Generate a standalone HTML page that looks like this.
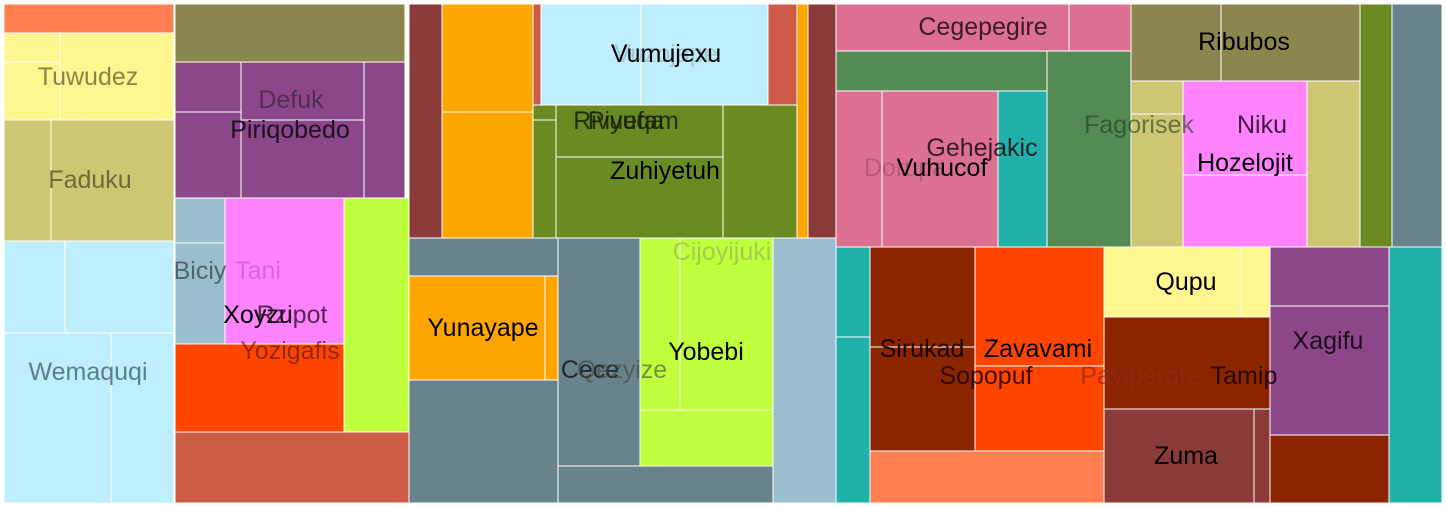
<!DOCTYPE html>
<html><head><meta charset="utf-8"><style>
html,body{margin:0;padding:0;background:#fff;width:1446px;height:507px;overflow:hidden}
svg text{font-family:"Liberation Sans",sans-serif;font-size:25px;text-anchor:middle;dominant-baseline:central}
</style></head><body>
<svg id="tm" width="1446" height="507" viewBox="0 0 1446 507"></svg>
<script>
// Cell rectangles: [x, y, w, h, fill]
const cells = [
[4,4,170,29,'#FF7F50'],[4,33,56,29,'#FFF68F'],[4,62,56,58,'#FFF68F'],[60,33,114,87,'#FFF68F'],
[4,120,47,121,'#CDC673'],[51,120,123,121,'#CDC673'],
[4,241,61,92,'#BFEFFF'],[65,241,109,92,'#BFEFFF'],[4,333,107,170,'#BFEFFF'],[111,333,63,170,'#BFEFFF'],
[175,4,230,58,'#8B864E'],
[175,62,66,50,'#8B4789'],[175,112,66,86,'#8B4789'],[241,62,123,58,'#8B4789'],[241,120,123,78,'#8B4789'],[364,62,41,136,'#8B4789'],
[175,198,50,45,'#9ABECD'],[175,243,50,101,'#9ABECD'],[225,198,119,146,'#FF82FF'],
[344,198,65,234,'#C0FF3E'],[175,344,169,88,'#FF4500'],[175,432,234,71,'#CD5B45'],
[409,4,33,234,'#8B3A3A'],[442,4,91,108,'#FFA500'],[442,112,91,126,'#FFA500'],[533,4,8,101,'#CD5B45'],
[541,4,100,101,'#BFEFFF'],[641,4,127,101,'#BFEFFF'],[768,4,29,101,'#CD5B45'],
[533,105,23,15,'#698B22'],[533,120,23,118,'#698B22'],[556,105,167,52,'#698B22'],[556,157,167,81,'#698B22'],[723,105,74,133,'#698B22'],
[797,4,11,234,'#FFA500'],[808,4,28,234,'#8B3A3A'],
[409,238,149,38,'#68838B'],[409,276,136,104,'#FFA500'],[545,276,13,104,'#FFA500'],[409,380,149,123,'#68838B'],
[558,238,82,228,'#68838B'],[558,466,215,37,'#68838B'],
[640,238,40,172,'#C0FF3E'],[680,238,93,172,'#C0FF3E'],[640,410,133,56,'#C0FF3E'],[773,238,63,265,'#9ABECD'],
[836,4,233,47,'#DB7093'],[1069,4,62,47,'#DB7093'],[836,51,211,40,'#548B54'],[1047,51,84,196,'#548B54'],
[836,91,46,156,'#DB7093'],[882,91,116,156,'#DB7093'],[998,91,49,156,'#20B2AA'],
[1131,4,90,77,'#8B864E'],[1221,4,139,77,'#8B864E'],[1131,81,52,33,'#CDC673'],[1131,114,52,133,'#CDC673'],
[1183,81,124,94,'#FF82FF'],[1183,175,124,72,'#FF82FF'],[1307,81,53,166,'#CDC673'],
[1360,4,32,243,'#698B22'],[1392,4,50,243,'#68838B'],
[836,247,34,90,'#20B2AA'],[836,337,34,166,'#20B2AA'],
[870,247,105,100,'#8B2500'],[870,347,105,104,'#8B2500'],[975,247,129,119,'#FF4500'],[975,366,129,85,'#FF4500'],
[870,451,234,52,'#FF7F50'],[1104,247,137,70,'#FFF68F'],[1241,247,29,70,'#FFF68F'],[1104,317,166,92,'#8B2500'],
[1104,409,150,94,'#8B3A3A'],[1254,409,16,94,'#8B3A3A'],
[1270,247,119,59,'#8B4789'],[1270,306,119,129,'#8B4789'],[1270,435,119,68,'#8B2500'],[1389,247,53,256,'#20B2AA']
];
// Labels: [text, cx, cy, color]
const labels = [
['Tuwudez',88,77,'rgba(60,55,20,0.6)'],['Faduku',90,180,'rgba(60,55,20,0.65)'],['Wemaquqi',88,372,'rgba(60,90,100,0.75)'],
['Defuk',291,100,'rgba(40,20,40,0.55)'],['Piriqobedo',290,130,'rgba(20,10,20,0.9)'],
['Biciy',200,271,'rgba(50,60,70,0.7)'],['Tani',258,271,'rgba(200,90,200,0.7)'],
['Xoyzu',258,315,'#000'],['Rzipot',292,315,'rgba(40,20,40,0.8)'],['Yozigafis',290,351,'rgba(100,30,10,0.7)'],
['Vuzojape',666,54,'rgba(120,150,160,0.4)'],['Vumujexu',666,54,'#000'],
['Piyuqa',626,121,'rgba(20,25,5,0.8)'],['Rivuefam',626,121,'rgba(20,25,5,0.8)'],['Zuhiyetuh',665,171,'#000'],
['Cijoyijuki',722,252,'rgba(120,150,90,0.45)'],['Yunayape',483,328,'#000'],
['Cece',590,370,'rgba(20,25,30,0.85)'],['Qezyize',622,370,'rgba(60,70,60,0.6)'],['Yobebi',706,352,'#000'],
['Cegepegire',983,27,'rgba(30,10,20,0.85)'],['Gehejakic',982,148,'rgba(30,10,20,0.85)'],
['Dorupa',905,168,'rgba(120,50,70,0.35)'],['Vuhucof',942,168,'#000'],
['Fagorisek',1139,125,'rgba(30,60,30,0.6)'],['Niku',1262,125,'rgba(30,10,30,0.85)'],['Hozelojit',1245,163,'#000'],
['Ribubos',1244,42,'#000'],['Qupu',1186,282,'#000'],
['Sirukad',922,349,'rgba(10,0,0,0.85)'],['Zavavami',1038,349,'#000'],['Sopopuf',986,376,'rgba(30,5,0,0.85)'],
['Payiperote',1140,376,'rgba(150,40,20,0.7)'],['Tamip',1244,376,'rgba(20,5,0,0.85)'],
['Xagifu',1328,341,'rgba(10,0,10,0.85)'],['Zuma',1186,456,'#000']
];
const NS='http://www.w3.org/2000/svg';
const svg=document.getElementById('tm');
cells.forEach(function(c,i){
  const r=document.createElementNS(NS,'rect');
  r.setAttribute('x',c[0]);r.setAttribute('y',c[1]);r.setAttribute('width',c[2]);r.setAttribute('height',c[3]);
  r.setAttribute('fill',c[4]);r.setAttribute('stroke','#fff');r.setAttribute('stroke-width','1');
  
  
  svg.appendChild(r);
});
labels.forEach(function(l){
  const t=document.createElementNS(NS,'text');
  t.setAttribute('x',l[1]);t.setAttribute('y',l[2]);t.setAttribute('fill',l[3]);
  t.textContent=l[0];
  
  
  svg.appendChild(t);
});
</script>
</body></html>
